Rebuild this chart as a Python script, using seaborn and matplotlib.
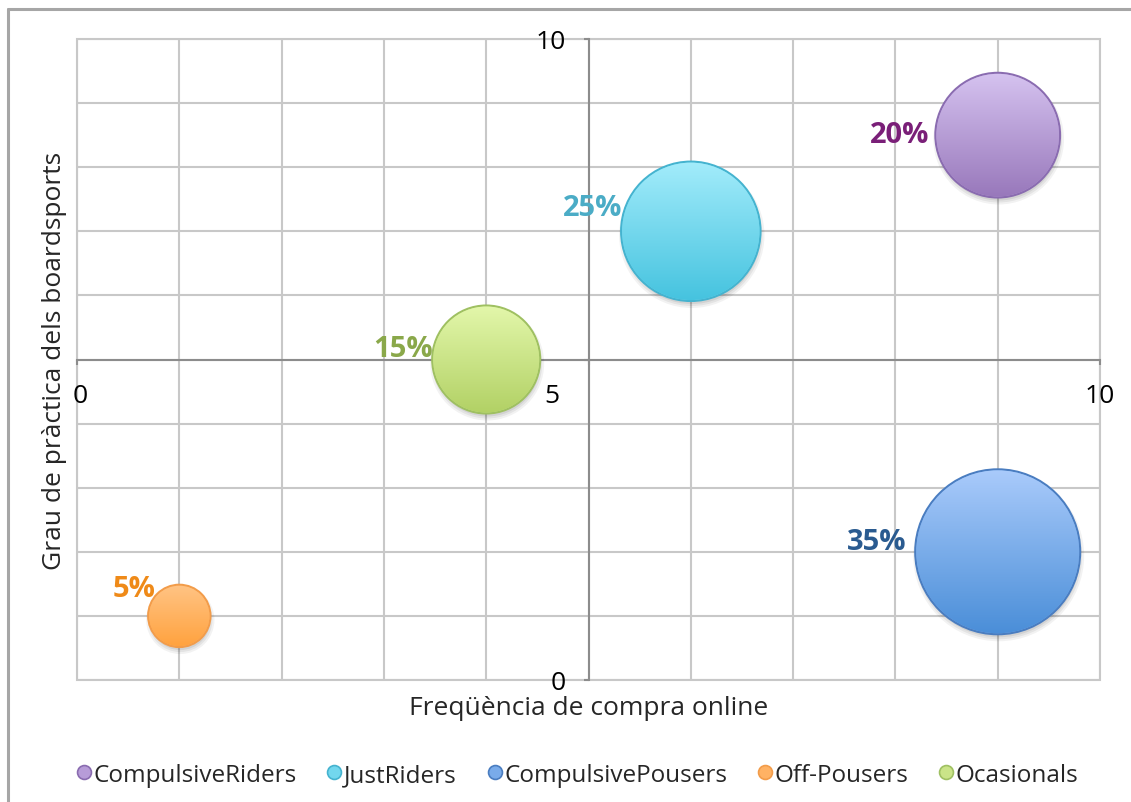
import numpy as np
import pandas as pd
import matplotlib
matplotlib.use("Agg")
import matplotlib.pyplot as plt
import matplotlib.transforms as mtransforms
from matplotlib.patches import Circle
from matplotlib.lines import Line2D
from matplotlib.ticker import MultipleLocator
import seaborn as sns

# ── data ─────────────────────────────────────────────────────
segments = ["CompulsiveRiders", "JustRiders", "CompulsivePousers", "Off-Pousers", "Ocasionals"]
freq_online = [9, 6, 9, 1, 4]          # x: Freqüència de compra online
grau_practica = [8.5, 7, 2, 1, 5]      # y: Grau de pràctica dels boardsports
share_pct = [20, 25, 35, 5, 15]        # bubble size (%)

# ── styles ───────────────────────────────────────────────────
top_cols = ["#d6c3f0", "#a3ecfb", "#aacbfb", "#ffc485", "#e3f7ab"]
bot_cols = ["#9878bb", "#45c3df", "#4a8ed8", "#ffa23e", "#b2d165"]
mid_cols = ["#b79cd8", "#72d7ee", "#79abea", "#ffb264", "#cae488"]
edge_cols = ["#8a6cb0", "#45b3cf", "#4a7dc0", "#f29c4a", "#9fc062"]
label_cols = ["#7a1f78", "#4bacc6", "#2a5b90", "#ef8a18", "#8aa84a"]
label_nudge = [(-2, 0.3), (2.7, 17), (-4.4, 7.6), (7.4, 20), (2.3, 7.6)]   # points

FONT = ["Open Sans", "DejaVu Sans"]

sns.set_theme(style="white")
plt.rcParams["font.family"] = FONT
plt.rcParams["font.size"] = 19

df = pd.DataFrame({"segment": segments, "x": freq_online,
                   "y": grau_practica, "pct": share_pct})

DPI = 100
fig = plt.figure(figsize=(11.31, 8.03), dpi=DPI)
ax = fig.add_axes([77/1131, 1-681/803, 1023/1131, 641/803])

# s (pt^2) proportional to share -> bubble area ∝ share
K = 403
sns.scatterplot(data=df, x="x", y="y", hue="segment", palette=mid_cols,
                size="pct", sizes=(K*min(share_pct), K*max(share_pct)),
                size_norm=(min(share_pct), max(share_pct)),
                legend=False, ax=ax, zorder=3, linewidth=1.5)
pts = ax.collections[0]
pts.set_edgecolors(edge_cols)

ax.set_xlim(0, 10)
ax.set_ylim(0, 10)

# grid every unit
ax.xaxis.set_minor_locator(MultipleLocator(1))
ax.yaxis.set_minor_locator(MultipleLocator(1))
ax.set_xticks([0, 5, 10])
ax.set_yticks([0, 5, 10])
ax.set_xticklabels(["0", "5", "10"])
ax.set_yticklabels(["0", "", "10"])
ax.grid(True, which="both", color="#c8c8c8", lw=1.5, zorder=0)
ax.set_axisbelow(True)

for side in ["top", "right"]:
    ax.spines[side].set_visible(False)
ax.spines["left"].set_position(("data", 5))
ax.spines["bottom"].set_position(("data", 5))
for side in ["left", "bottom"]:
    ax.spines[side].set_color("#8c8c8c")
    ax.spines[side].set_linewidth(1.5)
    ax.spines[side].set_zorder(1)
ax.patch.set_edgecolor("#c8c8c8")
ax.patch.set_linewidth(1.5)

ax.tick_params(which="major", direction="out", length=3.6, width=1.5,
               color="#8c8c8c", labelsize=19, labelcolor="black")
ax.tick_params(axis="y", which="major", left=True, pad=13)
ax.tick_params(axis="x", which="major", bottom=True, pad=13)
ax.tick_params(which="minor", length=0)

# the "5" on the x axis sits left of the crossing, the "0" a touch right
for idx, off in [(0, 3), (1, -37)]:
    shift = mtransforms.ScaledTranslation(off/DPI, 0, fig.dpi_scale_trans)
    lab = ax.xaxis.get_major_ticks()[idx].label1
    lab.set_transform(lab.get_transform() + shift)

ax.set_xlabel("Freqüència de compra online", fontsize=19)
ax.set_ylabel("Grau de pràctica dels boardsports", fontsize=19)
ax.xaxis.set_label_coords(0.5, (681-709)/641)
ax.xaxis.label.set_va("center")
ax.yaxis.set_label_coords((55-77)/1023, 0.5)
ax.yaxis.label.set_va("center")

# gradient fill + shadow for every bubble
fig.canvas.draw()
sizes = pts.get_sizes()
grad = np.linspace(0, 1, 256)[:, None]
for i, (xv, yv) in enumerate(zip(freq_online, grau_practica)):
    s = sizes[i] if len(sizes) > 1 else sizes[0]
    r_pt = np.sqrt(s) / 2
    r_px = r_pt * DPI / 72
    cx, cy = ax.transData.transform((xv, yv))
    # soft shadow
    for k, a in zip([7, 5, 3], [0.05, 0.06, 0.07]):
        sh = Circle((cx + 1, cy - 4), r_px + k - 4, transform=None,
                    facecolor="black", edgecolor="none", alpha=a, zorder=2)
        ax.add_artist(sh)
    t = np.array(matplotlib.colors.to_rgb(top_cols[i]))
    b = np.array(matplotlib.colors.to_rgb(bot_cols[i]))
    img = t[None, None, :] * (1 - grad[:, :, None]) + b[None, None, :] * grad[:, :, None]
    (x0, y0) = ax.transData.inverted().transform((cx - r_px, cy - r_px))
    (x1, y1) = ax.transData.inverted().transform((cx + r_px, cy + r_px))
    im = ax.imshow(img, extent=(x0, x1, y0, y1), origin="upper",
                   aspect="auto", zorder=3.5, interpolation="bilinear")
    clip = Circle((cx, cy), r_px - 1, transform=mtransforms.IdentityTransform())
    im.set_clip_path(clip)
    # percentage label to the left of the bubble
    dx, dy = label_nudge[i]
    ax.annotate(f"{share_pct[i]}%", (xv, yv), xytext=(-r_pt - 2 + dx, dy),
                textcoords="offset points", ha="right", va="center",
                fontsize=21, fontweight="bold", color=label_cols[i], zorder=5)
ax.set_xlim(0, 10)
ax.set_ylim(0, 10)

# legend
handles = [Line2D([], [], marker="o", ls="none", markersize=10,
                  markerfacecolor=mid_cols[i], markeredgecolor=edge_cols[i],
                  markeredgewidth=1.2, label=segments[i]) for i in range(len(segments))]
fig.legend(handles=handles, loc="center", bbox_to_anchor=(577/1131, 1-776/803),
           ncol=5, frameon=False, fontsize=17.5, handletextpad=0.05,
           columnspacing=1.2, handlelength=0.7, borderaxespad=0)

# outer chart frame
fig.add_artist(Line2D([8/1131, 8/1131], [1-10/803, 0], transform=fig.transFigure,
                      color="#a6a6a6", lw=2.2))
fig.add_artist(Line2D([8/1131, 1], [1-10/803, 1-10/803], transform=fig.transFigure,
                      color="#a6a6a6", lw=2.2))

fig.savefig("out.png", dpi=DPI)
